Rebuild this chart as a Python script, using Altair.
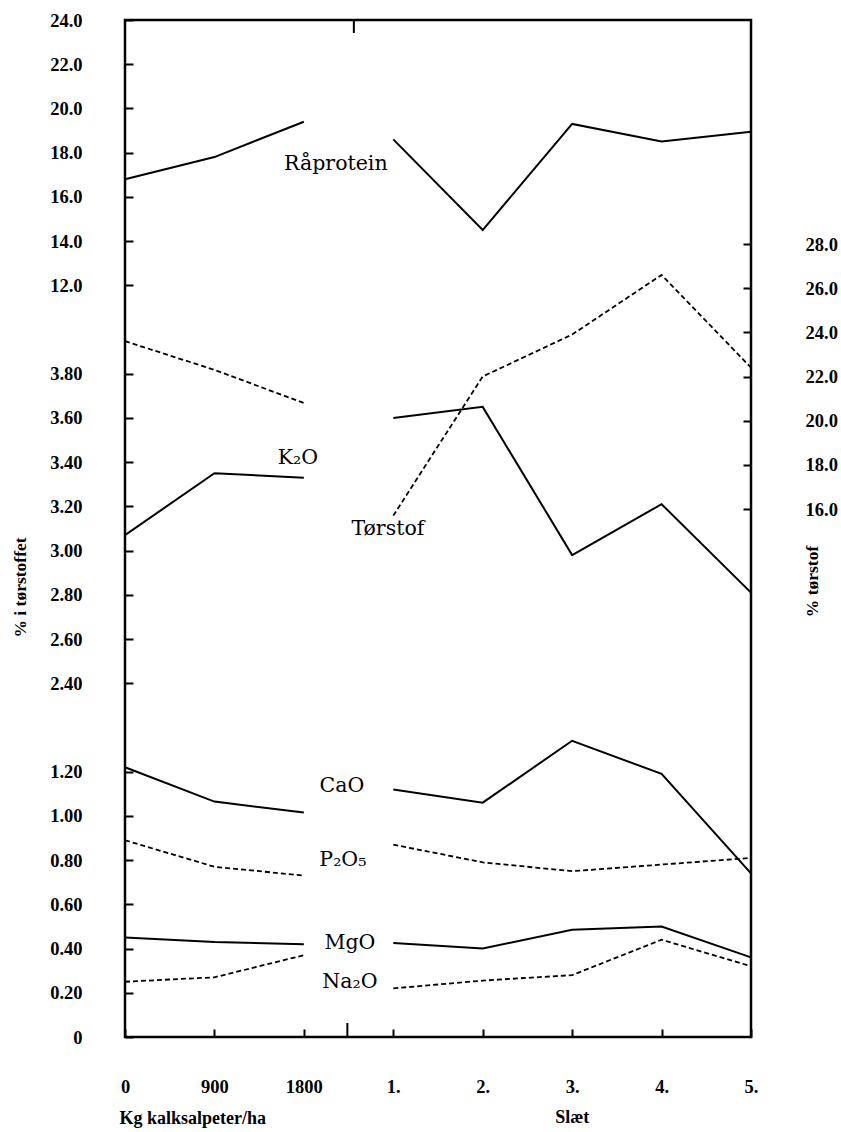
import altair as alt
import pandas as pd

# ---------------- data ----------------
x_labels = ["0", "900", "1800", "1.", "2.", "3.", "4.", "5."]
x_group = ["kg", "kg", "kg", "slaet", "slaet", "slaet", "slaet", "slaet"]

raaprotein = [16.8, 17.8, 19.4, 18.6, 14.5, 19.3, 18.5, 18.95]
k2o = [3.07, 3.35, 3.33, 3.60, 3.65, 2.98, 3.21, 2.81]
cao = [1.22, 1.065, 1.015, 1.12, 1.06, 1.34, 1.19, 0.74]
p2o5 = [0.89, 0.77, 0.73, 0.87, 0.79, 0.75, 0.78, 0.81]
mgo = [0.45, 0.43, 0.42, 0.425, 0.40, 0.485, 0.50, 0.36]
na2o = [0.25, 0.27, 0.37, 0.22, 0.255, 0.28, 0.44, 0.32]
torstof = [23.6, 22.3, 20.8, 15.7, 22.0, 23.9, 26.6, 22.4]

left_ticks = [0, 0.2, 0.4, 0.6, 0.8, 1.0, 1.2,
              2.4, 2.6, 2.8, 3.0, 3.2, 3.4, 3.6, 3.8,
              12, 14, 16, 18, 20, 22, 24]
right_ticks = [16, 18, 20, 22, 24, 26, 28]


def line_df(name, vals):
    return pd.DataFrame({
        "x": x_labels,
        "value": vals,
        "idx": list(range(len(x_labels))),
        "seg": [name + "-" + g for g in x_group],
    })


solid_df = pd.concat([line_df("Råprotein", raaprotein), line_df("K2O", k2o),
                      line_df("CaO", cao), line_df("MgO", mgo)])
dashed_df = pd.concat([line_df("P2O5", p2o5), line_df("Na2O", na2o)])
tor_df = line_df("Tørstof", torstof)

# ---------------- styling ----------------
W, H = 626, 1017
TICK_FONT = "Liberation Serif"
LABEL_FONT = "DejaVu Serif"
TICK_SIZE_FONT = 18.5
TITLE_SIZE = 17.5

x_axis = alt.Axis(
    title="Kg kalksalpeter/ha", labelAngle=0, offset=-8, tickSize=8, tickWidth=2,
    tickColor="black", domain=False, grid=False, labelPadding=40,
    labelFont=TICK_FONT, labelFontSize=TICK_SIZE_FONT, labelFontWeight="bold", labelColor="black",
    titleX=-6, titleY=89, titleAlign="left", titleAnchor="start", titleBaseline="middle",
    titleFont=TICK_FONT, titleFontSize=18, titleFontWeight="bold", titleColor="black",
)
X = alt.X("x:N", sort=x_labels, scale=alt.Scale(type="point", padding=0), axis=x_axis)

y_left_axis = alt.Axis(
    orient="left", values=left_ticks,
    labelExpr="datum.value == 0 ? '0' : (datum.value >= 12 ? format(datum.value, '.1f') : format(datum.value, '.2f'))",
    offset=-8, tickSize=8, tickWidth=2, tickColor="black", domain=False, grid=False,
    labelPadding=43, labelOverlap=False, labelFont=TICK_FONT, labelFontSize=TICK_SIZE_FONT,
    labelFontWeight="bold", labelColor="black",
    title="% i tørstoffet", titleAngle=270, titleX=-113, titleY=567,
    titleAlign="center", titleBaseline="middle", titleFont=TICK_FONT,
    titleFontSize=TITLE_SIZE, titleFontWeight="bold", titleColor="black",
)
left_scale = alt.Scale(domain=[0, 1.4, 2.4, 3.8, 12, 24],
                       range=[1017, 707.5, 663.3, 353.7, 265.3, 0],
                       nice=False, zero=False)
YL = alt.Y("value:Q", scale=left_scale, axis=y_left_axis)

y_right_axis = alt.Axis(
    orient="right", values=right_ticks, format=".1f",
    offset=-8, tickSize=8, tickWidth=2, tickColor="black", domain=False, grid=False,
    labelPadding=54, labelOverlap=False, labelFont=TICK_FONT, labelFontSize=TICK_SIZE_FONT,
    labelFontWeight="bold", labelColor="black",
    title="% tørstof", titleAngle=270, titleX=69, titleY=561,
    titleAlign="center", titleBaseline="middle", titleFont=TICK_FONT,
    titleFontSize=TITLE_SIZE, titleFontWeight="bold", titleColor="black",
)
right_scale = alt.Scale(domain=[16, 28], range=[489, 224], nice=False, zero=False)
YR = alt.Y("value:Q", scale=right_scale, axis=y_right_axis)

# ---------------- layers ----------------
solid = alt.Chart(solid_df).mark_line(color="black", strokeWidth=2).encode(
    x=X, y=YL, detail="seg:N", order="idx:Q")
dashed = alt.Chart(dashed_df).mark_line(color="black", strokeWidth=1.8, strokeDash=[5, 3]).encode(
    x=X, y=YL, detail="seg:N", order="idx:Q")


def series_label(text, value, dx):
    return alt.Chart(pd.DataFrame({"x": ["1800"], "value": [value]})).mark_text(
        text=text, dx=dx, align="center", baseline="middle",
        font=LABEL_FONT, fontSize=20.5, color="black").encode(x=X, y=YL)


labels = [
    series_label("Råprotein", 17.5, 32),
    series_label("K₂O", 3.42, -6),
    series_label("Tørstof", 3.10, 84),
    series_label("CaO", 1.135, 38),
    series_label("P₂O₅", 0.80, 39),
    series_label("MgO", 0.425, 46),
    series_label("Na₂O", 0.25, 46),
]

brk_df = pd.DataFrame({"x": ["1800"]})
brk_bottom = alt.Chart(brk_df).mark_rule(color="black", strokeWidth=2, xOffset=43.5).encode(
    x=X, y=alt.value(H), y2=alt.value(H - 14))
brk_top = alt.Chart(brk_df).mark_rule(color="black", strokeWidth=2, xOffset=50).encode(
    x=X, y=alt.value(0), y2=alt.value(13))

slaet = alt.Chart(pd.DataFrame({"x": ["3."]})).mark_text(
    text="Slæt", align="center", baseline="middle", font=TICK_FONT, fontSize=18,
    fontWeight="bold", color="black").encode(x=X, y=alt.value(1098))

left = alt.layer(solid, dashed, *labels, brk_bottom, brk_top, slaet)

right = alt.Chart(tor_df).mark_line(color="black", strokeWidth=1.8, strokeDash=[5, 3]).encode(
    x=X, y=YR, detail="seg:N", order="idx:Q")

chart = alt.layer(left, right).resolve_scale(y="independent").properties(
    width=W, height=H,
    padding={"left": 125, "top": 20, "right": 90, "bottom": 95},
    autosize=alt.AutoSizeParams(type="none"),
    background="white",
).configure_view(stroke="black", strokeWidth=2.5)

chart.save("out.html", embed_options={"renderer": "svg", "actions": False})
